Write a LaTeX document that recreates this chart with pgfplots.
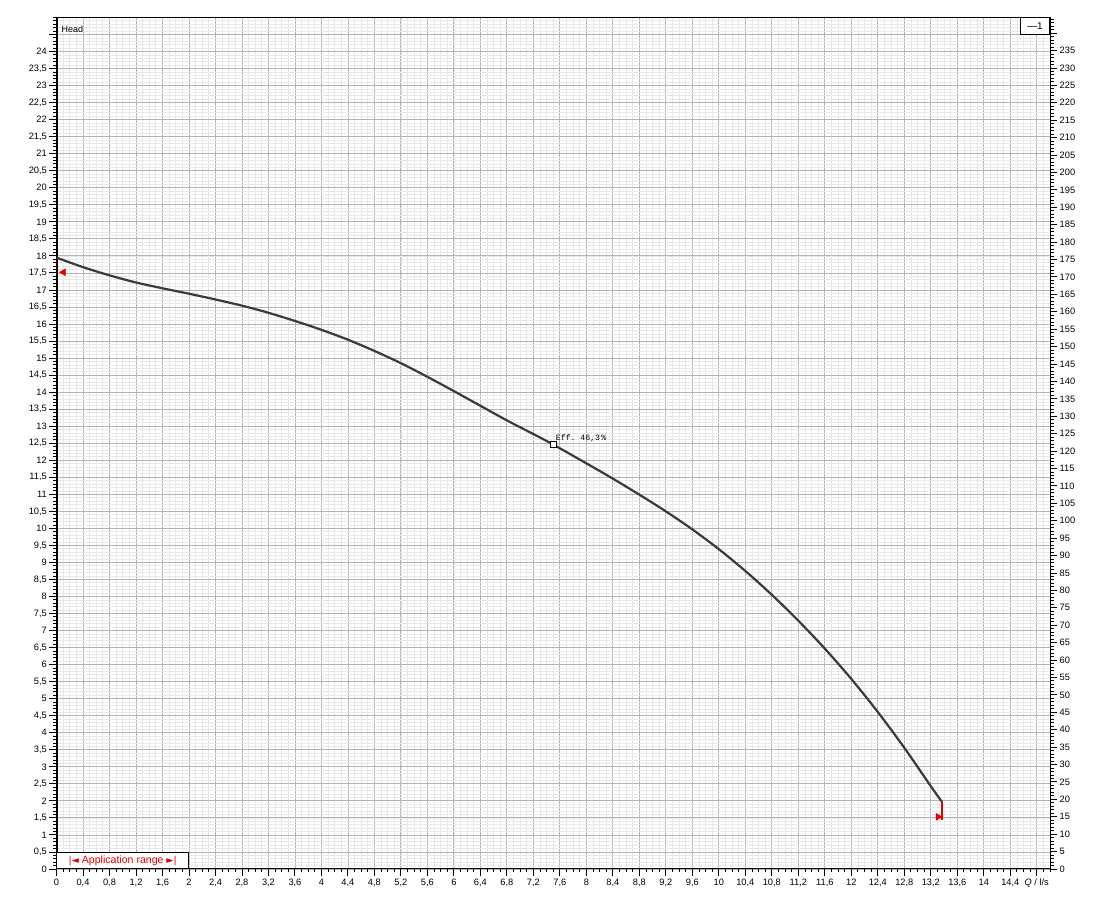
\documentclass[border=0pt]{standalone}
\usepackage{fontspec}
\setmainfont{Liberation Sans}
\newfontfamily\dejavu{DejaVu Sans}
\newfontfamily\monofnt{Liberation Mono}
\usepackage{pgfplots}
\pgfplotsset{compat=1.18}
\definecolor{curvec}{HTML}{3A3A3A}
\definecolor{gmaj}{HTML}{B4B4B4}
\definecolor{gmin}{HTML}{E8E8E8}
\definecolor{appred}{HTML}{E00000}
\pgfplotsset{
  /pgf/number format/assume math mode=true,
  /pgf/number format/use comma,
  /pgf/number format/1000 sep={},
  tick label style={font=\fontsize{9.3}{10}\selectfont},
  major tick length=7bp, minor tick length=3.5bp,
}
\begin{document}
\begin{tikzpicture}[x=1bp,y=1bp]
\useasboundingbox (0,0) rectangle (1110,908);
\begin{axis}[
  at={(56.5bp,39bp)}, anchor=south west,
  scale only axis, width=993.5bp, height=851.5bp,
  xmin=0, xmax=15, ymin=0, ymax=25,
  axis line style={black, line width=1bp},
  tick align=outside, xtick pos=bottom, ytick pos=left,
  tick style={black, line width=0.9bp},
  xtick={0,0.4,0.8,1.2,1.6,2,2.4,2.8,3.2,3.6,4,4.4,4.8,5.2,5.6,6,6.4,6.8,7.2,7.6,8,8.4,8.8,9.2,9.6,10,10.4,10.8,11.2,11.6,12,12.4,12.8,13.2,13.6,14,14.4,14.8},
  xticklabels={0,{0,4},{0,8},{1,2},{1,6},2,{2,4},{2,8},{3,2},{3,6},4,{4,4},{4,8},{5,2},{5,6},6,{6,4},{6,8},{7,2},{7,6},8,{8,4},{8,8},{9,2},{9,6},10,{10,4},{10,8},{11,2},{11,6},12,{12,4},{12,8},{13,2},{13,6},14,{14,4},{\textit{Q} / l/s}},
  minor xtick={0,0.1,...,15},
  ytick={0,0.5,...,24},
  minor ytick={0,0.1,...,25},
  extra y ticks={24.5}, extra y tick labels={},
  extra y tick style={grid=major},
  grid=both,
  major grid style={gmaj, line width=0.85bp},
  minor grid style={gmin, line width=0.8bp},
  yticklabel style={inner sep=2.5bp},
  xticklabel style={inner sep=3bp},
]
\draw[line width=2bp, black] (rel axis cs:0,1) -- (rel axis cs:0,0) -- (rel axis cs:1,0);
\addplot[curvec, line width=2.2bp, smooth, tension=0.5] coordinates {
(0,17.95) (0.4,17.67) (0.8,17.43) (1.2,17.22) (1.6,17.05) (2.0,16.89)
(2.4,16.72) (2.8,16.54) (3.2,16.33) (3.6,16.09) (4.0,15.83) (4.4,15.54)
(4.8,15.21) (5.2,14.85) (5.6,14.45) (6.0,14.03) (6.4,13.60) (6.8,13.17)
(7.2,12.77) (7.5,12.46) (8.0,11.91) (8.4,11.46) (8.8,10.99) (9.2,10.50)
(9.6,9.97) (10.0,9.39) (10.4,8.75) (10.8,8.05) (11.2,7.29) (11.6,6.47)
(12.0,5.58) (12.4,4.61) (12.8,3.56) (13.2,2.43) (13.37,1.97)
};
\addplot[appred, line width=1.3bp] coordinates {(0,17.95) (0,17.48)};
\addplot[appred, line width=1.3bp] coordinates {(13.37,1.97) (13.37,1.45)};
\addplot[only marks, mark=triangle*, mark size=4bp, mark options={rotate=90, draw=appred, fill=appred}] coordinates {(0.106,17.52)};
\addplot[only marks, mark=triangle*, mark size=4bp, mark options={rotate=-90, draw=appred, fill=appred}] coordinates {(13.31,1.53)};
\addplot[only marks, mark=square*, mark size=3bp, mark options={draw=black, fill=white, line width=1.1bp}] coordinates {(7.50,12.46)};
\node[anchor=west, inner sep=0, font=\monofnt\fontsize{8.2}{9}\selectfont, xshift=2.5bp, yshift=6.8bp] at (axis cs:7.50,12.46) {Eff.\ 46,3\,\%};
\draw[draw=black, fill=white, line width=1.6bp] (axis cs:0,0) rectangle (axis cs:1.99,0.49);
\node[text=appred, inner sep=0, font=\fontsize{10.6}{12}\selectfont] at (axis cs:1.0,0.23) {{\dejavu\fontsize{9.5}{10}\selectfont |◄}\ Application range\ {\dejavu\fontsize{9.5}{10}\selectfont ►|}};
\node[anchor=west, inner sep=0, font=\fontsize{9}{10}\selectfont, xshift=5bp] at (rel axis cs:0,0.9865) {Head};
\node[anchor=east, inner sep=0, font=\fontsize{9.3}{10}\selectfont, xshift=-10.5bp] at (rel axis cs:0,0.989) {\textit{H} / m};
\node[anchor=north east, draw=black, line width=1bp, fill=white, minimum width=29bp, minimum height=17bp, inner sep=0, font=\fontsize{10}{11}\selectfont] at (rel axis cs:1,1) {—1};
\node[anchor=west, inner sep=0, font=\fontsize{9.3}{10}\selectfont, xshift=4bp] at (rel axis cs:1,0.989) {Δ\textit{p} / kPa};
\end{axis}
\begin{axis}[
  at={(56.5bp,39bp)}, anchor=south west,
  scale only axis, width=993.5bp, height=851.5bp,
  xmin=0, xmax=15, ymin=0, ymax=244.5,
  axis x line=none, axis y line*=right,
  y axis line style={black, line width=1bp, -},
  tick align=outside,
  tick style={black, line width=0.9bp},
  ytick={0,5,...,235},
  extra y ticks={240}, extra y tick labels={},
  minor ytick={0,1,...,244},
  yticklabel style={inner sep=2.5bp},
]
\end{axis}
\end{tikzpicture}
\end{document}
